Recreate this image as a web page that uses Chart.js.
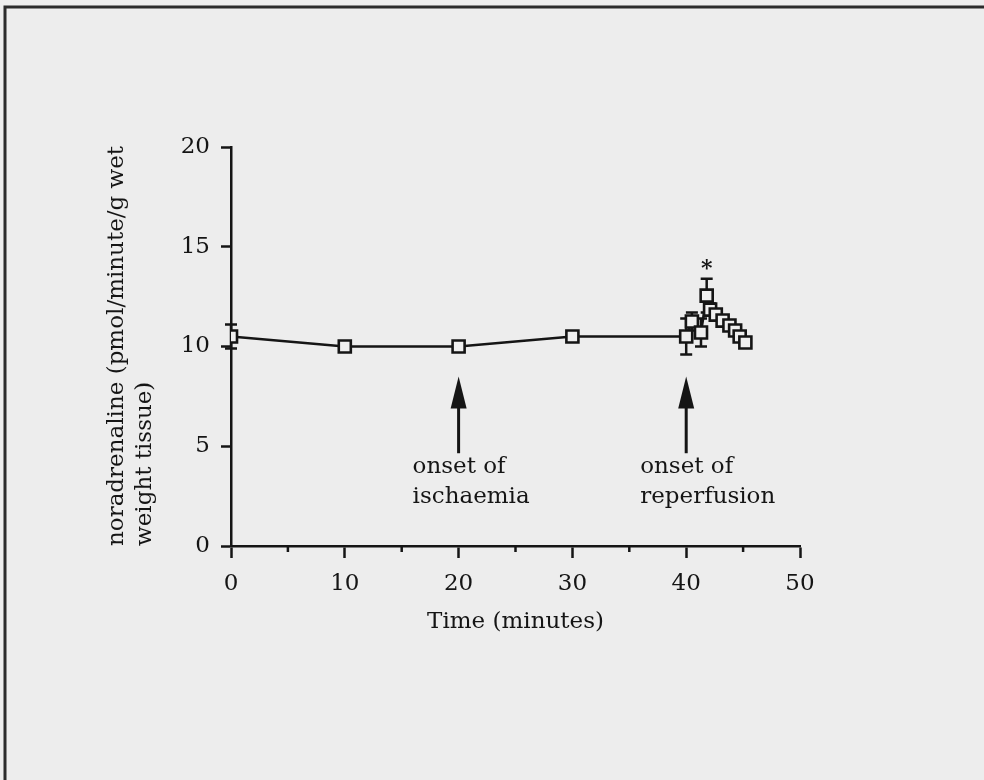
<!DOCTYPE html>
<html>
<head>
<meta charset="utf-8">
<script src="https://cdn.jsdelivr.net/npm/chart.js@4.4.0/dist/chart.umd.min.js"></script>
<style>
  html, body { margin: 0; padding: 0; background: #ededed; }
  canvas { display: block; }
</style>
</head>
<body>
<canvas id="chart" width="984" height="780"></canvas>
<script>
// time points (minutes) and mean noradrenaline overflow
const times = [0, 10, 20, 30, 40, 40.5, 41.3, 41.8, 42.1, 42.6, 43.2, 43.8, 44.3, 44.7, 45.2];
const noradrenaline = [10.5, 10.0, 10.0, 10.5, 10.5, 11.25, 10.7, 12.55, 11.85, 11.6, 11.3, 11.05, 10.8, 10.5, 10.2];
const sem = [0.6, 0.15, 0.15, 0.15, 0.9, 0.45, 0.7, 0.85, 0.3, 0.25, 0.25, 0.25, 0.25, 0.2, 0.2];

const xTicks = [0, 10, 20, 30, 40, 50];
const yTicks = [0, 5, 10, 15, 20];

// annotation text
const events = [
  { t: 20, lines: ["onset of", "ischaemia"] },
  { t: 40, lines: ["onset of", "reperfusion"] }
];
const starIndex = 7;

const FONT = "'DejaVu Serif', serif";
const FS = 23;
const INK = "#151515";

const points = times.map((t, i) => ({ x: t, y: noradrenaline[i] }));

const decor = {
  id: "decor",
  beforeDraw(chart) {
    const c = chart.ctx;
    c.save();
    c.fillStyle = "#ededed";
    c.fillRect(0, 0, chart.width, chart.height);
    // scanned page frame
    c.strokeStyle = "#2b2b2b";
    c.lineWidth = 3;
    c.beginPath();
    c.moveTo(5, chart.height);
    c.lineTo(5, 7);
    c.lineTo(chart.width, 7);
    c.stroke();
    c.restore();
  },
  beforeDatasetsDraw(chart) {
    const c = chart.ctx;
    const xs = chart.scales.x, ys = chart.scales.y;
    c.save();
    c.strokeStyle = INK;
    c.lineWidth = 2.5;
    // minor x ticks
    for (let v = 5; v < 50; v += 10) {
      const px = xs.getPixelForValue(v);
      c.beginPath();
      c.moveTo(px, ys.bottom);
      c.lineTo(px, ys.bottom + 6);
      c.stroke();
    }
    // error bars
    times.forEach((t, i) => {
      const px = xs.getPixelForValue(t);
      const hi = ys.getPixelForValue(noradrenaline[i] + sem[i]);
      const lo = ys.getPixelForValue(noradrenaline[i] - sem[i]);
      c.beginPath();
      c.moveTo(px, hi); c.lineTo(px, lo);
      c.moveTo(px - 6, hi); c.lineTo(px + 6, hi);
      c.moveTo(px - 6, lo); c.lineTo(px + 6, lo);
      c.stroke();
    });
    c.restore();
  },
  afterDatasetsDraw(chart) {
    const c = chart.ctx;
    const xs = chart.scales.x, ys = chart.scales.y;
    c.save();
    c.fillStyle = INK;
    c.strokeStyle = INK;
    events.forEach(ev => {
      const px = xs.getPixelForValue(ev.t);
      const tip = ys.getPixelForValue(8.5);
      const base = ys.getPixelForValue(4.65);
      c.lineWidth = 3;
      c.beginPath();
      c.moveTo(px, base);
      c.lineTo(px, tip + 25);
      c.stroke();
      c.beginPath();
      c.moveTo(px, tip);
      c.lineTo(px - 8, tip + 32);
      c.lineTo(px + 8, tip + 32);
      c.closePath();
      c.fill();
      c.font = FS + "px " + FONT;
      c.textAlign = "left";
      c.textBaseline = "middle";
      ev.lines.forEach((s, k) => c.fillText(s, px - 46, base + 14 + k * 30));
    });
    // significance mark
    const sx = xs.getPixelForValue(times[starIndex]);
    const sy = ys.getPixelForValue(noradrenaline[starIndex] + sem[starIndex]);
    c.font = "bold 22px " + FONT;
    c.textAlign = "center";
    c.textBaseline = "middle";
    c.fillText("*", sx, sy - 9);
    c.restore();
  }
};

new Chart(document.getElementById("chart"), {
  type: "line",
  data: {
    datasets: [
      {
        data: points,
        borderColor: INK,
        borderWidth: 2.5,
        tension: 0,
        pointStyle: "rect",
        pointRadius: 8.5,
        pointBorderWidth: 2.6,
        pointBorderColor: INK,
        pointBackgroundColor: "#efefef"
      },
      {
        data: points,
        showLine: false,
        pointStyle: "circle",
        pointRadius: 1.6,
        pointBorderWidth: 0,
        pointBackgroundColor: INK
      }
    ]
  },
  options: {
    responsive: false,
    animation: false,
    devicePixelRatio: 1,
    layout: { padding: { left: 0, top: 147, right: 184, bottom: 0 } },
    plugins: { legend: { display: false }, tooltip: { enabled: false } },
    scales: {
      x: {
        type: "linear",
        min: 0,
        max: 50,
        afterBuildTicks: s => { s.ticks = xTicks.map(v => ({ value: v })); },
        afterFit: s => { s.height = 234; },
        ticks: { color: INK, font: { family: FONT, size: FS }, padding: 12 },
        grid: { drawOnChartArea: false, color: INK, tickLength: 12, tickWidth: 2.5 },
        border: { color: INK, width: 2.5 },
        title: {
          display: true,
          text: "Time (minutes)",
          color: INK,
          font: { family: FONT, size: FS },
          padding: { top: 0, bottom: 144 }
        }
      },
      y: {
        min: 0,
        max: 20,
        afterBuildTicks: s => { s.ticks = yTicks.map(v => ({ value: v })); },
        afterFit: s => { s.width = 231; },
        ticks: { color: INK, font: { family: FONT, size: FS }, padding: 11 },
        grid: { drawOnChartArea: false, color: INK, tickLength: 10, tickWidth: 2.5 },
        border: { color: INK, width: 2.5 },
        title: {
          display: true,
          text: ["noradrenaline (pmol/minute/g wet", "weight tissue)"],
          align: "start",
          color: INK,
          font: { family: FONT, size: FS, lineHeight: 1.22 },
          padding: { top: 103, bottom: 0 }
        }
      }
    }
  },
  plugins: [decor]
});
</script>
</body>
</html>
